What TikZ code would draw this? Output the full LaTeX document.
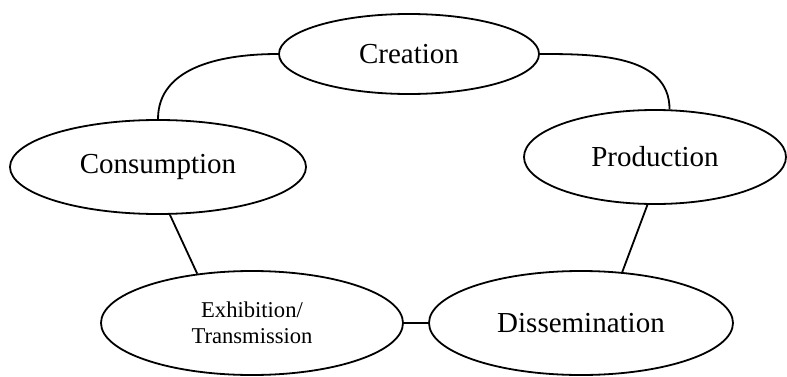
\documentclass[tikz,border=0pt]{standalone}
\usepackage{fontspec}
\setmainfont{Liberation Serif}
\usepackage{tikz}
\usetikzlibrary{shapes.geometric}
\newcommand{\pxsize}[0] {0.5pt}

\begin{document}
\begin{tikzpicture}[x=\pxsize,y=\pxsize,
        stage/.style={shape=ellipse,draw=black,line width=0.9pt,inner sep=0pt,font=\fontsize{14.5}{17}\selectfont},
        link/.style={draw=black,line width=0.9pt}]
        \useasboundingbox (0,0) rectangle (787,376);
        \node[stage,minimum width=130pt,minimum height=40pt] (creation) at (409,322)     {Creation};
        \node[stage,minimum width=148pt,minimum height=47pt] (consumption) at (158,209)     {Consumption};
        \node[stage,minimum width=131pt,minimum height=47pt] (production) at (655,219)     {Production};
        \node[stage,minimum width=151pt,minimum height=52pt,align=center,font=\fontsize{11.3}{13}\selectfont] (exhibition) at (252,53)     {Exhibition/\\Transmission};
        \node[stage,minimum width=152pt,minimum height=52pt] (dissemination) at (581,53)     {Dissemination};

        %edges
        \path[link] (creation.west) to[out=180,in=90] (consumption.north);
        \path[link] (creation.east) to[out=0,in=90] (production.73);
        \path[link] (consumption.-76) -- (exhibition.138);
        \path[link] (production.-99) -- (dissemination.51);
        \path[link] (exhibition.east) -- (dissemination.west);
\end{tikzpicture}
\end{document}
